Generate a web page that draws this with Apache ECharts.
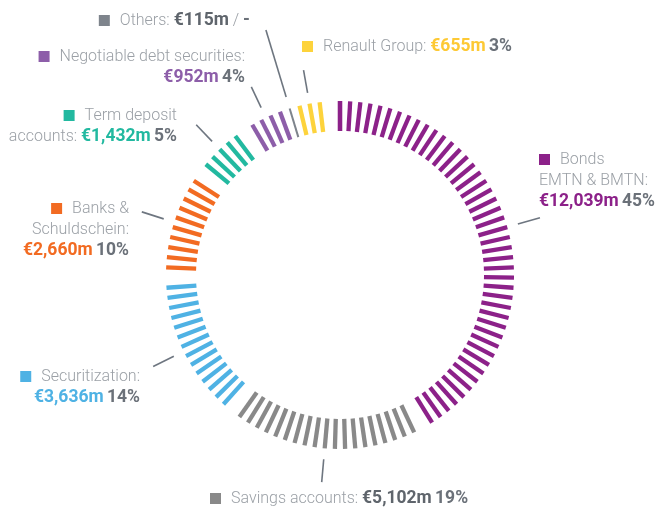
<!DOCTYPE html>
<html>
<head>
<meta charset="utf-8">
<script src="https://cdn.jsdelivr.net/npm/echarts@6/dist/echarts.min.js"></script>
<style>
  html, body { margin: 0; background: #fff; }
  #chart { width: 660px; height: 508px; }
</style>
</head>
<body>
<div id="chart"></div>
<script>
// clockwise from 12 o'clock
const categories = ["Bonds EMTN & BMTN", "Savings accounts", "Securitization", "Banks & Schuldschein",
  "Term deposit accounts", "Negotiable debt securities", "Others", "Renault Group"];
const labelNames = ["Bonds\nEMTN & BMTN:\n", "Savings accounts: ", "Securitization:\n", "Banks &\nSchuldschein:\n",
  "Term deposit\naccounts: ", "Negotiable debt securities:\n", "Others: ", "Renault Group: "];
const amounts = [12039, 5102, 3636, 2660, 1432, 952, 115, 655];   // €m
const shares = [45, 19, 14, 10, 5, 4, null, 3];                    // %, one dash per point

const COLOR = ["#8c2189", "#898989", "#4fb2e4", "#f26b22", "#22b9a0", "#8d5ea9", "#7e848c", "#fdd33c"];
const VALUE_COLOR = ["#8c2189", "#5f656c", "#4fb2e4", "#f26b22", "#22b9a0", "#8d5ea9", "#5f656c", "#fdc935"];
const NAME_COLOR = "#9ba0a6";
const PCT_COLOR = "#6b7179";
const LEADER_COLOR = "#6e7680";
const FONT = "Roboto";

const LABEL_POS = [
  { x: 539, y: 149, align: "left" },
  { x: 210, y: 488, align: "left" },
  { x: 140, y: 366, align: "right" },
  { x: 129, y: 198, align: "right" },
  { x: 177, y: 105, align: "right" },
  { x: 245, y: 46, align: "right" },
  { x: 250, y: 10, align: "right" },
  { x: 302, y: 36, align: "left" },
];

const CENTER = [340, 275];
const RADIUS = 174;
const CLEAR = "rgba(0,0,0,0)";

// slots around the ring: dashes per category, one empty slot after each group.
// a category with no share gets a thin mark in the previous gap.
const slotCat = [];
const thinSlot = {};
const centers = [];
shares.forEach((s, i) => {
  if (!s) {
    thinSlot[slotCat.length - 1] = i;
    centers[i] = slotCat.length - 1;
    return;
  }
  centers[i] = slotCat.length + (s - 1) / 2;
  for (let k = 0; k < s; k++) slotCat.push(i);
  slotCat.push(-1);
});
const N = slotCat.length;

function stops(count, colorAt) {
  const list = [];
  for (let k = 0; k < count; k++) list.push([(k + 0.5) / count, colorAt(k)]);
  list.push([1, colorAt(0)]);
  return list;
}

function ringGauge(count, colorList, tick) {
  return {
    type: "gauge",
    center: CENTER,
    radius: RADIUS,
    startAngle: 90,
    endAngle: -270,
    min: 0,
    max: 100,
    splitNumber: 1,
    silent: true,
    axisLine: { show: false, lineStyle: { width: 0, color: colorList } },
    splitLine: { show: false },
    axisLabel: { show: false },
    pointer: { show: false },
    anchor: { show: false },
    progress: { show: false },
    title: { show: false },
    detail: { show: false },
    axisTick: Object.assign({ show: true, splitNumber: count }, tick),
    data: [{ value: 0 }],
  };
}

const dashColors = stops(N, k => slotCat[k] >= 0 ? COLOR[slotCat[k]] : CLEAR);
const thinColors = stops(N, k => thinSlot[k] != null ? COLOR[thinSlot[k]] : CLEAR);
const leaderAt = {};
centers.forEach((c, i) => { leaderAt[Math.round(c * 2)] = i; });
const leaderColors = stops(N * 2, j => leaderAt[j] != null && shares[leaderAt[j]] ? LEADER_COLOR : CLEAR);
const longLeaderColors = stops(N * 2, j => leaderAt[j] != null && !shares[leaderAt[j]] ? LEADER_COLOR : CLEAR);

function labelText(i) {
  const v = "€" + amounts[i].toLocaleString("en-US") + "m";
  const p = shares[i] == null ? "{name| / }{pct|-}" : " {pct|" + shares[i] + "%}";
  return "{sq|}{sp|}{name|" + labelNames[i] + "}{val|" + v + "}" + p;
}

const labels = categories.map((c, i) => {
  const txt = { fontFamily: FONT, fontSize: 16, lineHeight: 21, verticalAlign: "middle" };
  const bold = Object.assign({}, txt, { fontSize: 17.5, fontWeight: "bold" });
  return {
    type: "text",
    x: LABEL_POS[i].x,
    y: LABEL_POS[i].y,
    silent: true,
    style: {
      text: labelText(i),
      align: LABEL_POS[i].align,
      verticalAlign: "top",
      rich: {
        sq: { width: 11, height: 11, backgroundColor: COLOR[i], verticalAlign: "middle" },
        sp: { width: 10, height: 11, verticalAlign: "middle" },
        name: Object.assign({ fontWeight: 300, fill: NAME_COLOR }, txt),
        val: Object.assign({ fill: VALUE_COLOR[i] }, bold),
        pct: Object.assign({ fill: PCT_COLOR }, bold),
      },
    },
  };
});

const chart = echarts.init(document.getElementById("chart"), null, { renderer: "canvas" });
chart.setOption({
  animation: false,
  backgroundColor: "#fff",
  series: [
    ringGauge(N, dashColors, { length: 30, distance: 0, lineStyle: { color: "auto", width: 4.3, cap: "butt" } }),
    ringGauge(N, thinColors, { length: 30, distance: 0, lineStyle: { color: "auto", width: 2, cap: "butt" } }),
    ringGauge(N * 2, leaderColors, { length: 23, distance: -34, lineStyle: { color: "auto", width: 1.6 } }),
    ringGauge(N * 2, longLeaderColors, { length: 70, distance: -82, lineStyle: { color: "auto", width: 1.6 } }),
  ],
  graphic: labels,
});
window.addEventListener("resize", () => chart.resize());
</script>
</body>
</html>
